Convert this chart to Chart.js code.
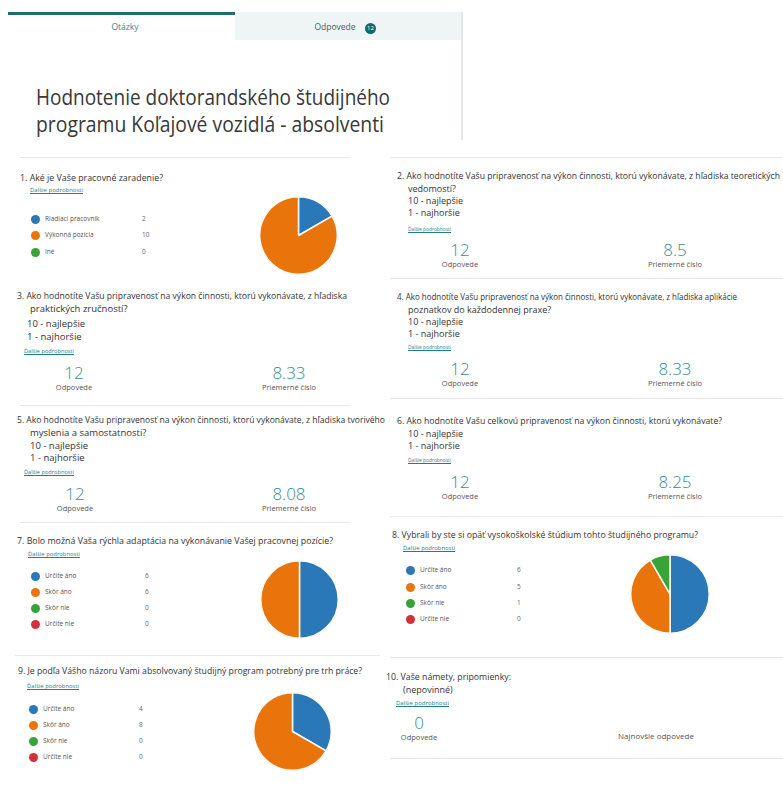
<!DOCTYPE html>
<html lang="sk">
<head>
<meta charset="utf-8">
<title>Hodnotenie doktorandského študijného programu Koľajové vozidlá - absolventi</title>
<script src="https://cdn.jsdelivr.net/npm/chart.js@4.4.0/dist/chart.umd.min.js"></script>
<style>
  html, body { margin: 0; padding: 0; background: #fff; }
  body {
    width: 783px; height: 792px; position: relative; overflow: hidden;
    font-family: "Open Sans", "Noto Sans", sans-serif; color: #333;
  }
  .t { position: absolute; white-space: nowrap; line-height: 1; }
  .line { position: absolute; height: 1px; background: #e8e8e8; }
  .dot { position: absolute; width: 9px; height: 9px; border-radius: 50%; }
  .pie { position: absolute; }
  .tabL { position: absolute; left: 8px; top: 12px; width: 227px; height: 25px; background: #fff; border-top: 3px solid #1e6f6c; }
  .tabR { position: absolute; left: 235px; top: 12px; width: 228px; height: 28px; background: #eff5f5; }
  .edge { position: absolute; left: 461px; top: 12px; width: 2px; height: 128px; background: #e2e6e6; }
  .badge { position: absolute; left: 365px; top: 23px; width: 11px; height: 11px; border-radius: 50%; background: #0f6b6b;
           color: #fff; font-size: 6px; line-height: 11px; text-align: center; }
</style>
</head>
<body>
<div class="tabL"></div>
<div class="tabR"></div>
<div class="edge"></div>
<div class="badge">12</div>
<script>
// answer options
const q1Labels = ["Riadiaci pracovník", "Výkonná pozícia", "Iné"];
const q1Values = [2, 10, 0];
const yesNoLabels = ["Určite áno", "Skôr áno", "Skôr nie", "Určite nie"];
const q7Values = [6, 6, 0, 0];
const q8Values = [6, 5, 1, 0];
const q9Values = [4, 8, 0, 0];

// rating questions 2-6: responses and average
const ratingCounts = [12, 12, 12, 12, 12];
const ratingAverages = ["8.5", "8.33", "8.33", "8.08", "8.25"];
const q10Count = 0;

const pieColors = ["#2b78b8", "#e9740c", "#38a33a", "#d5303a"];
const teal = "#3a8b8b";
const linkColor = "#1f7f88";

const page = document.body;

function txt(x, y, s, o) {
  o = o || {};
  const el = document.createElement("div");
  el.className = "t";
  el.textContent = s;
  el.style.fontSize = (o.size || 9) + "px";
  el.style.color = o.color || "#333";
  if (o.weight) el.style.fontWeight = o.weight;
  if (o.underline) el.style.textDecoration = "underline";
  el.style.left = x + "px";
  el.style.top = y + "px";
  page.appendChild(el);
  let sx = 1;
  if (o.w) sx = o.w / el.getBoundingClientRect().width;
  if (o.center) {
    el.style.transformOrigin = "center center";
    el.style.transform = "translate(-50%,-50%) scaleX(" + sx + ")";
  } else {
    el.style.transformOrigin = "left center";
    el.style.transform = "translateY(-50%) scaleX(" + sx + ")";
  }
  return el;
}

function hline(x1, x2, y) {
  const el = document.createElement("div");
  el.className = "line";
  el.style.left = x1 + "px";
  el.style.top = y + "px";
  el.style.width = (x2 - x1) + "px";
  page.appendChild(el);
}

function legend(x, ys, labels, values, valX) {
  labels.forEach((lab, i) => {
    const d = document.createElement("div");
    d.className = "dot";
    d.style.left = (x - 4.5) + "px";
    d.style.top = (ys[i] - 4.5) + "px";
    d.style.background = pieColors[i];
    page.appendChild(d);
    txt(x + 10, ys[i], lab, { size: 6.5, color: "#555" });
    txt(valX, ys[i], String(values[i]), { size: 6.5, color: "#666" });
  });
}

function pie(cx, cy, r, labels, values) {
  const box = document.createElement("div");
  box.className = "pie";
  const s = 2 * r + 2;
  box.style.left = (cx - s / 2) + "px";
  box.style.top = (cy - s / 2) + "px";
  box.style.width = s + "px";
  box.style.height = s + "px";
  const cv = document.createElement("canvas");
  box.appendChild(cv);
  page.appendChild(box);
  new Chart(cv.getContext("2d"), {
    type: "pie",
    data: {
      labels: labels,
      datasets: [{
        data: values,
        backgroundColor: pieColors.slice(0, values.length),
        borderColor: "#fbfaf4",
        borderWidth: 1.5,
      }],
    },
    options: {
      responsive: true,
      maintainAspectRatio: false,
      animation: false,
      layout: { padding: 0 },
      plugins: { legend: { display: false }, tooltip: { enabled: false } },
    },
  });
}

function stats(cx1, cx2, y, count, avg) {
  txt(cx1, y, String(count), { size: 17, color: teal, center: true, weight: 300 });
  txt(cx1, y + 16, "Odpovede", { size: 7.5, color: "#555", center: true });
  if (avg !== null) {
    txt(cx2, y, avg, { size: 17, color: teal, center: true, weight: 300 });
    txt(cx2, y + 16, "Priemerné číslo", { size: 7.5, color: "#555", center: true });
  }
}

// header
txt(125, 27, "Otázky", { size: 8.5, color: "#2f8a86", center: true });
txt(335, 27, "Odpovede", { size: 8.5, color: "#555", center: true });
txt(36, 97, "Hodnotenie doktorandského študijného", { size: 21, color: "#383838", w: 354 });
txt(36, 124, "programu Koľajové vozidlá - absolventi", { size: 21, color: "#383838", w: 348 });

// left column
hline(20, 350, 157);
txt(20, 178, "1.  Aké je Vaše pracovné zaradenie?", { size: 9.5, w: 143 });
txt(30, 190, "Ďalšie podrobnosti", { size: 6, color: linkColor, underline: true, w: 53 });
legend(35, [219, 235, 252], q1Labels, q1Values, 142);
pie(298, 235, 38.5, q1Labels, q1Values);

txt(17, 296, "3.  Ako hodnotíte Vašu pripravenosť na výkon činnosti, ktorú vykonávate, z hľadiska", { size: 9.5, w: 330 });
txt(30, 309, "praktických  zručností?", { size: 9.5 });
txt(27, 324, "10 - najlepšie", { size: 9.5 });
txt(27, 337, "1 - najhoršie", { size: 9.5 });
txt(24, 351, "Ďalšie podrobnosti", { size: 6, color: linkColor, underline: true, w: 50 });
stats(74, 289, 372, ratingCounts[1], ratingAverages[1]);

hline(20, 350, 405);
txt(17, 420, "5.  Ako hodnotíte Vašu pripravenosť na výkon činnosti, ktorú vykonávate, z hľadiska tvorivého", { size: 9.5, w: 368 });
txt(30, 433, "myslenia a samostatnosti?", { size: 9.5 });
txt(30, 446, "10 - najlepšie", { size: 9.5 });
txt(30, 458, "1 - najhoršie", { size: 9.5 });
txt(24, 472, "Ďalšie podrobnosti", { size: 6, color: linkColor, underline: true, w: 50 });
stats(75, 289, 493, ratingCounts[3], ratingAverages[3]);

hline(20, 350, 522);
txt(17, 541, "7.  Bolo možná Vaša rýchla adaptácia na vykonávanie Vašej pracovnej pozície?", { size: 9.5, w: 316 });
txt(28, 554, "Ďalšie podrobnosti", { size: 6, color: linkColor, underline: true, w: 52 });
legend(35, [576, 592, 608, 624], yesNoLabels, q7Values, 145);
pie(299, 599, 38.5, yesNoLabels, q7Values);

hline(15, 380, 655);
txt(18, 671, "9.  Je podľa Vášho názoru Vami absolvovaný študijný program potrebný pre trh práce?", { size: 9.5, w: 344 });
txt(27, 686, "Ďalšie podrobnosti", { size: 6, color: linkColor, underline: true, w: 52 });
legend(33, [709, 725, 741, 757], yesNoLabels, q9Values, 139);
pie(292.5, 731.5, 38.5, yesNoLabels, q9Values);

// right column
hline(390, 783, 157);
txt(397, 175, "2.  Ako hodnotíte Vašu pripravenosť na výkon činnosti, ktorú vykonávate, z hľadiska teoretických", { size: 9, w: 383 });
txt(408, 188, "vedomostí?", { size: 9 });
txt(408, 200, "10 - najlepšie", { size: 9 });
txt(408, 212, "1 - najhoršie", { size: 9 });
txt(408, 229, "Ďalšie podrobnosti", { size: 6, color: linkColor, underline: true, w: 43 });
stats(460, 675, 249, ratingCounts[0], ratingAverages[0]);

hline(390, 783, 278);
txt(397, 296, "4.  Ako hodnotíte Vašu pripravenosť na výkon činnosti, ktorú vykonávate, z hľadiska aplikácie", { size: 9, w: 340 });
txt(408, 309, "poznatkov do každodennej praxe?", { size: 9 });
txt(408, 321, "10 - najlepšie", { size: 9 });
txt(408, 333, "1 - najhoršie", { size: 9 });
txt(408, 347, "Ďalšie podrobnosti", { size: 6, color: linkColor, underline: true, w: 43 });
stats(460, 675, 368, ratingCounts[2], ratingAverages[2]);

hline(390, 783, 398);
txt(397, 420, "6.  Ako hodnotíte Vašu celkovú pripravenosť na výkon činnosti, ktorú vykonávate?", { size: 9, w: 325 });
txt(408, 433, "10 - najlepšie", { size: 9 });
txt(408, 445, "1 - najhoršie", { size: 9 });
txt(408, 460, "Ďalšie podrobnosti", { size: 6, color: linkColor, underline: true, w: 43 });
stats(460, 675, 481, ratingCounts[4], ratingAverages[4]);

hline(390, 783, 516);
txt(392, 534, "8.  Vybrali by ste si opäť vysokoškolské štúdium tohto študijného programu?", { size: 9, w: 306 });
txt(403, 548, "Ďalšie podrobnosti", { size: 6, color: linkColor, underline: true, w: 52 });
legend(410, [570, 587, 603, 619], yesNoLabels, q8Values, 517);
pie(670, 594, 39, yesNoLabels, q8Values);

hline(390, 783, 657);
txt(386, 676, "10. Vaše námety, pripomienky:", { size: 9, w: 125 });
txt(403, 689, "(nepovinné)", { size: 9 });
txt(396, 703, "Ďalšie podrobnosti", { size: 6, color: linkColor, underline: true, w: 53 });
stats(419, 0, 722, q10Count, null);
txt(656, 736, "Najnovšie odpovede", { size: 8, color: "#555", center: true });
hline(390, 783, 758);
</script>
</body>
</html>
